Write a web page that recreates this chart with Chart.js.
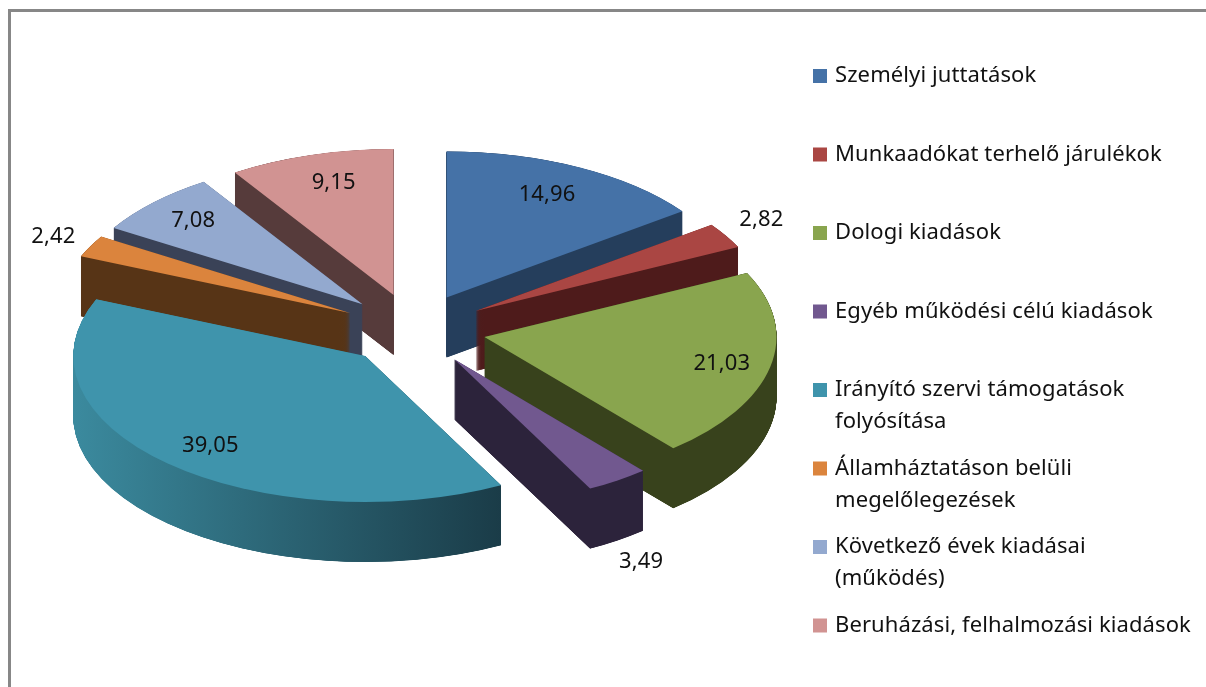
<!DOCTYPE html>
<html>
<head>
<meta charset="utf-8">
<style>
  html, body { margin: 0; background: #fff; }
  #wrap { position: relative; width: 1206px; height: 687px; overflow: hidden; }
  #frame { position: absolute; left: 8px; top: 9px; width: 1198px; height: 678px;
           border-left: 3px solid #878787; border-top: 3px solid #878787; box-sizing: border-box; }
  canvas { position: absolute; left: 0; top: 0; }
</style>
</head>
<body>
<div id="wrap">
  <div id="frame"></div>
  <canvas id="kiadasok" width="1206" height="687"></canvas>
</div>
<script src="https://cdn.jsdelivr.net/npm/chart.js@4/dist/chart.umd.min.js"></script>
<script>
// Adatok
const labels = [
  ["Személyi juttatások"],
  ["Munkaadókat terhelő járulékok"],
  ["Dologi kiadások"],
  ["Egyéb működési célú kiadások"],
  ["Irányító szervi támogatások", "folyósítása"],
  ["Államháztatáson belüli", "megelőlegezések"],
  ["Következő évek kiadásai", "(működés)"],
  ["Beruházási, felhalmozási kiadások"]
];
const values = [14.96, 2.82, 21.03, 3.49, 39.05, 2.42, 7.08, 9.15];

// Szinek
const topColors = ["#4572A7", "#AA4643", "#89A54E", "#71588F", "#3F94AC", "#DB843D", "#93A9CF", "#D19392"];
const wallLight = ["#253E5C", "#4E1B1B", "#38421C", "#2C233B", "#3B8A9E", "#573416", "#3A4257", "#563B3B"];
const wallDark  = ["#253E5C", "#4E1B1B", "#38421C", "#2C233B", "#1A3B47", "#573416", "#3A4257", "#563B3B"];

// 3D beallitasok
const squash = 0.5;
const depth = 60;
const explode = 72;
const textFont = "22px 'Noto Sans', sans-serif";
const textSpacing = "0.1px";
// a feliratok kezi igazitasa a kiszamolt helyhez kepest
const labelNudge = [[-8, 4], [-2, -5], [3, 2], [-1, 3], [7, 2], [2, 0], [2, 0], [8, 3]];

function midAngle(arc) {
  return (arc.startAngle + arc.endAngle) / 2;
}

// Az ArcElement rajzolja a szeleteket, csak a transzformaciot es a szint cserelem
function paintArc(ctx, arc, fill) {
  const saved = arc.options;
  arc.options = { ...saved, backgroundColor: fill, borderWidth: 0, offset: 0 };
  arc.draw(ctx);
  arc.options = saved;
}

const pie3d = {
  id: 'pie3d',
  beforeDatasetDraw(chart, args) {
    const ctx = chart.ctx;
    const arcs = args.meta.data;
    const cy = arcs[0].y;

    // hatulrol elore
    const order = arcs.map((a, i) => i).sort((a, b) => Math.sin(midAngle(arcs[a])) - Math.sin(midAngle(arcs[b])));

    order.forEach(i => {
      const arc = arcs[i];
      const m = midAngle(arc);
      const dx = Math.cos(m) * explode;
      const dy = Math.sin(m) * explode;
      const r = arc.outerRadius;
      const grad = ctx.createLinearGradient(arc.x - r, 0, arc.x + r * 0.48, 0);
      grad.addColorStop(0, wallLight[i]);
      grad.addColorStop(1, wallDark[i]);

      // suru lepeskoz, kulonben a vekony szeletek csucsanal hezag marad
      for (let d = depth; d >= 0; d -= 0.2) {
        ctx.save();
        ctx.translate(0, cy + d);
        ctx.scale(1, squash);
        ctx.translate(dx, dy - cy);
        paintArc(ctx, arc, grad);
        ctx.restore();
      }
      ctx.save();
      ctx.translate(0, cy);
      ctx.scale(1, squash);
      ctx.translate(dx, dy - cy);
      paintArc(ctx, arc, topColors[i]);
      ctx.restore();
    });
    return false;
  },
  afterDatasetsDraw(chart) {
    const ctx = chart.ctx;
    const arcs = chart.getDatasetMeta(0).data;
    ctx.save();
    ctx.font = textFont;
    ctx.letterSpacing = textSpacing;
    ctx.fillStyle = "#111";
    ctx.textAlign = "center";
    ctx.textBaseline = "middle";
    arcs.forEach((arc, i) => {
      const m = midAngle(arc);
      const outside = values[i] < 5;
      const rr = arc.outerRadius * (outside ? 1.15 : 0.82) + explode;
      const x = arc.x + Math.cos(m) * rr;
      let y = arc.y + Math.sin(m) * rr * squash;
      if (outside && Math.sin(m) > 0) y += depth;
      ctx.fillText(values[i].toFixed(2).replace(".", ","), x + labelNudge[i][0], y + labelNudge[i][1]);
    });
    ctx.restore();
  },
  afterDraw(chart) {
    // jelmagyarazat
    const ctx = chart.ctx;
    ctx.save();
    ctx.font = textFont;
    ctx.letterSpacing = textSpacing;
    ctx.textBaseline = "middle";
    ctx.textAlign = "left";
    labels.forEach((lines, i) => {
      const y = 76 + i * 78.5;
      ctx.fillStyle = topColors[i];
      ctx.fillRect(813, y - 7, 14, 14);
      ctx.fillStyle = "#111";
      lines.forEach((t, j) => ctx.fillText(t, 835, y + j * 32));
    });
    ctx.restore();
  }
};

new Chart(document.getElementById('kiadasok'), {
  type: 'pie',
  data: {
    labels: labels.map(l => l.join(" ")),
    datasets: [{
      data: values,
      backgroundColor: topColors,
      borderWidth: 0,
      radius: 292
    }]
  },
  options: {
    responsive: false,
    animation: false,
    layout: { padding: { left: 0, right: 378, top: 0, bottom: 28 } },
    plugins: { legend: { display: false }, tooltip: { enabled: false } }
  },
  plugins: [pie3d]
});
</script>
</body>
</html>
